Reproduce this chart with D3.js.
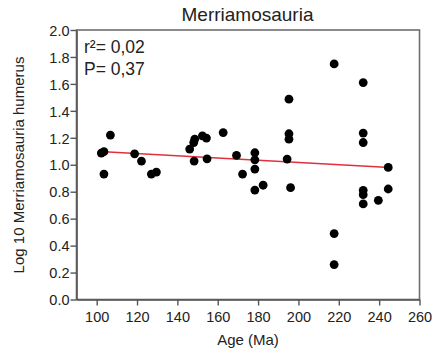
<!DOCTYPE html>
<html>
<head>
<meta charset="utf-8">
<script src="https://cdn.jsdelivr.net/npm/d3@7"></script>
<style>
  html, body { margin: 0; padding: 0; background: #fff; }
  svg { display: block; }
  text { font-family: "Liberation Sans", Arial, Helvetica, sans-serif; fill: #222; }
</style>
</head>
<body>
<svg id="chart" width="435" height="355"></svg>
<script>
// ---- data ----
const ages = [102.3, 103.6, 103.6, 106.8, 118.8, 122.2, 127.1, 129.6,
  146.1, 148.1, 148.6, 148.3, 152.4, 154.4, 154.7, 162.7, 169.3, 172.3,
  178.4, 178.4, 178.4, 178.4, 182.5,
  195.3, 195.3, 195.3, 194.4, 196.1,
  217.7, 217.7, 217.7,
  232.1, 232.1, 232.1, 232.1, 232.1, 232.1, 239.6, 244.5, 244.5];
const logHumerus = [1.087, 1.097, 0.931, 1.22, 1.081, 1.027, 0.931, 0.946,
  1.116, 1.165, 1.19, 1.027, 1.215, 1.198, 1.044, 1.239, 1.069, 0.931,
  1.089, 1.037, 0.968, 0.812, 0.848,
  1.487, 1.23, 1.19, 1.042, 0.83,
  1.748, 0.489, 0.259,
  1.61, 1.235, 1.165, 0.81, 0.778, 0.709, 0.736, 0.98, 0.82];
const fitX = [101.5, 245.2];
const fitY = [1.098, 0.98];
const xTicks = [100, 120, 140, 160, 180, 200, 220, 240, 260];
const yTicks = [0.0, 0.2, 0.4, 0.6, 0.8, 1.0, 1.2, 1.4, 1.6, 1.8, 2.0];
const stats = ["r\u00B2= 0,02", "P= 0,37"];
const title = "Merriamosauria";
const xLabel = "Age (Ma)";
const yLabel = "Log 10 Merriamosauria humerus";

// ---- layout ----
const svg = d3.select("#chart");
const m = { left: 76.5, right: 419.5, top: 30, bottom: 299.5 };
const x = d3.scaleLinear().domain([90, 260]).range([m.left, m.right]);
const y = d3.scaleLinear().domain([0, 2]).range([m.bottom, m.top]);

// frame
svg.append("rect")
  .attr("x", m.left).attr("y", m.top)
  .attr("width", m.right - m.left).attr("height", m.bottom - m.top)
  .attr("fill", "none").attr("stroke", "#6e6e6e").attr("stroke-width", 1.6);

// axes
const xAxis = svg.append("g").attr("transform", `translate(0,${m.bottom})`)
  .call(d3.axisBottom(x).tickValues(xTicks).tickSize(6).tickSizeOuter(0).tickFormat(d3.format("d")));
const yAxis = svg.append("g").attr("transform", `translate(${m.left},0)`)
  .call(d3.axisLeft(y).tickValues(yTicks).tickSize(6).tickSizeOuter(0).tickFormat(d3.format(".1f")));
[xAxis, yAxis].forEach(g => {
  g.select(".domain").attr("stroke", "#555").attr("stroke-width", 1.6);
  g.selectAll(".tick line").attr("stroke", "#555").attr("stroke-width", 1.4);
  g.selectAll(".tick text").attr("fill", "#222")
    .style("font-family", '"Liberation Sans", Arial, sans-serif').style("font-size", "14.5px");
});
xAxis.selectAll(".tick text").attr("dy", null).attr("y", 22);
yAxis.selectAll(".tick text").attr("x", -7).attr("dy", "0.36em");

// regression line
svg.append("line")
  .attr("x1", x(fitX[0])).attr("y1", y(fitY[0]))
  .attr("x2", x(fitX[1])).attr("y2", y(fitY[1]))
  .attr("stroke", "#e0303c").attr("stroke-width", 1.5);

// points
svg.append("g").selectAll("circle")
  .data(ages.map((a, i) => [a, logHumerus[i]]))
  .join("circle")
  .attr("cx", d => x(d[0])).attr("cy", d => y(d[1]))
  .attr("r", 4.4).attr("fill", "#000");

// stats text
svg.append("g").selectAll("text").data(stats).join("text")
  .attr("x", 84).attr("y", (d, i) => 53 + i * 22)
  .style("font-size", "17.5px").text(d => d);

// title
svg.append("text").attr("x", 247.5).attr("y", 21)
  .attr("text-anchor", "middle").style("font-size", "19px").text(title);

// axis labels
svg.append("text").attr("x", 248).attr("y", 345)
  .attr("text-anchor", "middle").style("font-size", "15px").text(xLabel);
svg.append("text")
  .attr("transform", `translate(24,${165}) rotate(-90)`)
  .attr("text-anchor", "middle").style("font-size", "15px").text(yLabel);
</script>
</body>
</html>
